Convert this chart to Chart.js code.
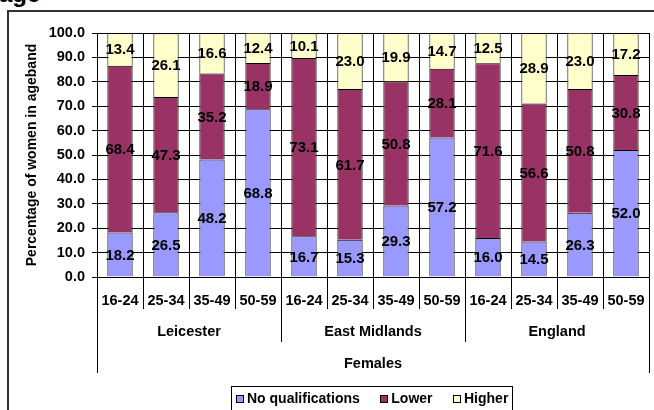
<!DOCTYPE html>
<html>
<head>
<meta charset="utf-8">
<script src="https://cdn.jsdelivr.net/npm/chart.js@4/dist/chart.umd.min.js"></script>
<style>
  html, body { margin: 0; padding: 0; background: #fff; overflow: hidden; }
  #wrap { position: relative; width: 654px; height: 410px; overflow: hidden; }
  #title { position: absolute; left: -1px; top: -18px; font: bold 24px/24px "Liberation Sans", Arial, sans-serif; color: #000; white-space: nowrap; }
  #frame { position: absolute; left: 7px; top: 10px; width: 700px; height: 500px; border: 2px solid #333; box-sizing: border-box; }
  canvas { position: absolute; left: 0; top: 0; }
</style>
</head>
<body>
<div id="wrap">
  <div id="title">age</div>
  <div id="frame"></div>
  <canvas id="c" width="654" height="410"></canvas>
</div>
<script>
const ageLabels = ["16-24", "25-34", "35-49", "50-59", "16-24", "25-34", "35-49", "50-59", "16-24", "25-34", "35-49", "50-59"];
const groupLabels = ["Leicester", "East Midlands", "England"];
const outerLabel = "Females";
const noQualifications = [18.2, 26.5, 48.2, 68.8, 16.7, 15.3, 29.3, 57.2, 16.0, 14.5, 26.3, 52.0];
const lower = [68.4, 47.3, 35.2, 18.9, 73.1, 61.7, 50.8, 28.1, 71.6, 56.6, 50.8, 30.8];
const higher = [13.4, 26.1, 16.6, 12.4, 10.1, 23.0, 19.9, 14.7, 12.5, 28.9, 23.0, 17.2];
const seriesNames = ["No qualifications", "Lower", "Higher"];
const seriesColors = ["#9999FF", "#993366", "#FFFFCC"];
const yTitle = "Percentage of women in ageband";

const FONT = '"Liberation Sans", Arial, sans-serif';

const labelPlugin = {
  id: 'segLabels',
  afterDatasetsDraw(chart) {
    const ctx = chart.ctx;
    ctx.save();
    ctx.font = 'bold 15px ' + FONT;
    ctx.fillStyle = '#000';
    ctx.textAlign = 'center';
    ctx.textBaseline = 'middle';
    chart.data.datasets.forEach((ds, di) => {
      const meta = chart.getDatasetMeta(di);
      meta.data.forEach((el, i) => {
        const v = ds.data[i];
        ctx.fillText(v.toFixed(1), el.x, (el.y + el.base) / 2 + 1);
      });
    });
    ctx.restore();
  }
};

const axisPlugin = {
  id: 'hierAxis',
  afterDraw(chart) {
    const ctx = chart.ctx;
    const xs = chart.scales.x;
    const area = chart.chartArea;
    const n = ageLabels.length;
    const w = (area.right - area.left) / n;
    const y0 = area.bottom;
    ctx.save();
    ctx.strokeStyle = '#000';
    ctx.lineWidth = 1;
    for (let i = 0; i <= n; i++) {
      const x = Math.round(area.left + i * w) + 0.5;
      let yEnd = y0 + 32;
      if (i === 0 || i === n) yEnd = y0 + 96;
      else if (i % 4 === 0) yEnd = y0 + 65;
      ctx.beginPath();
      ctx.moveTo(x, y0);
      ctx.lineTo(x, yEnd);
      ctx.stroke();
    }
    ctx.fillStyle = '#000';
    ctx.textAlign = 'center';
    ctx.textBaseline = 'middle';
    ctx.font = 'bold 14.5px ' + FONT;
    ageLabels.forEach((lab, i) => {
      ctx.fillText(lab, xs.getPixelForValue(i), y0 + 24);
    });
    groupLabels.forEach((lab, g) => {
      const cx = (xs.getPixelForValue(g * 4) + xs.getPixelForValue(g * 4 + 3)) / 2;
      ctx.fillText(lab, cx, y0 + 55);
    });
    ctx.fillText(outerLabel, (area.left + area.right) / 2, y0 + 87);

    // legend
    const items = seriesNames.map((nm, k) => ({ nm, col: seriesColors[k] }));
    ctx.font = 'bold 14px ' + FONT;
    ctx.textAlign = 'left';
    const box = 7, gapBox = 4.5, gapItem = 20, pad = 4;
    let total = 0;
    items.forEach((it, k) => {
      it.tw = ctx.measureText(it.nm).width;
      total += box + gapBox + it.tw + (k < items.length - 1 ? gapItem : 0);
    });
    const bw = Math.round(total + 2 * pad);
    const lx = Math.round(371.5 - bw / 2);
    const ly = 386.5;
    ctx.strokeStyle = '#000';
    ctx.strokeRect(lx + 0.5, ly, bw, 40);
    let cx = lx + pad + 0.5;
    const cy = 399;
    items.forEach((it) => {
      const sx = Math.round(cx) + 0.5;
      ctx.fillStyle = it.col;
      ctx.fillRect(sx, cy - 4 + 0.5, box, box);
      ctx.strokeStyle = '#000';
      ctx.strokeRect(sx, cy - 4 + 0.5, box, box);
      ctx.fillStyle = '#000';
      ctx.fillText(it.nm, cx + box + gapBox, cy);
      cx += box + gapBox + it.tw + gapItem;
    });
    ctx.restore();
  }
};

new Chart(document.getElementById('c'), {
  type: 'bar',
  data: {
    labels: ageLabels,
    datasets: [
      { label: seriesNames[0], data: noQualifications, backgroundColor: seriesColors[0] },
      { label: seriesNames[1], data: lower, backgroundColor: seriesColors[1] },
      { label: seriesNames[2], data: higher, backgroundColor: seriesColors[2] }
    ].map(d => Object.assign(d, { borderColor: '#000', borderWidth: 1, barPercentage: 0.55, categoryPercentage: 1 }))
  },
  options: {
    responsive: false,
    devicePixelRatio: 1,
    animation: false,
    layout: { padding: { left: 0, right: 5, top: 33, bottom: 0 } },
    plugins: { legend: { display: false }, tooltip: { enabled: false } },
    scales: {
      x: {
        stacked: true,
        offset: true,
        grid: { display: true, offset: true, color: '#000', lineWidth: 1, drawTicks: false },
        border: { display: true, color: '#000' },
        ticks: { display: false },
        afterFit(s) { s.height = 133; }
      },
      y: {
        stacked: true,
        min: 0, max: 100,
        ticks: {
          stepSize: 10,
          padding: 7,
          color: '#000',
          font: { family: FONT, size: 14.5, weight: 'bold' },
          callback: v => Number(v).toFixed(1)
        },
        grid: { color: '#000', lineWidth: 1, tickLength: 5 },
        border: { display: true, color: '#000' },
        title: {
          display: true,
          text: yTitle,
          color: '#000',
          font: { family: FONT, size: 14, weight: 'bold' },
          padding: { top: 24, bottom: 0 }
        },
        afterFit(s) { s.width = 97; }
      }
    }
  },
  plugins: [labelPlugin, axisPlugin]
});
</script>
</body>
</html>
